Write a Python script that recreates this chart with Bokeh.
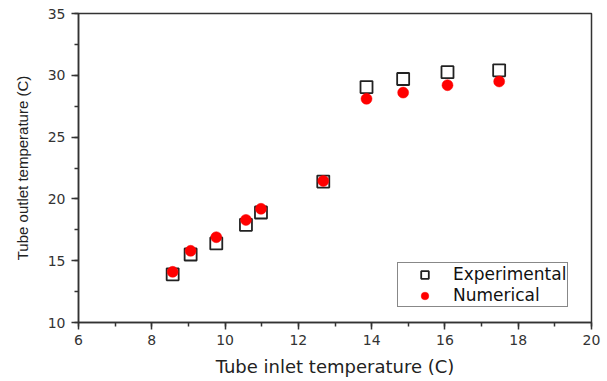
from bokeh.plotting import figure
from bokeh.models import Range1d, SingleIntervalTicker, Legend, LegendItem, ColumnDataSource
from bokeh.embed import file_html
from bokeh.resources import INLINE

# Data
inlet_temp = [8.57, 9.06, 9.76, 10.57, 10.98, 12.68, 13.86, 14.86, 16.07, 17.48]
exp_outlet = [13.9, 15.5, 16.4, 17.9, 18.9, 21.4, 29.05, 29.7, 30.25, 30.4]
num_outlet = [14.1, 15.8, 16.9, 18.3, 19.2, 21.45, 28.1, 28.6, 29.2, 29.5]
series_names = ["Experimental", "Numerical"]

src = ColumnDataSource(dict(x=inlet_temp, exp=exp_outlet, num=num_outlet))

p = figure(
    frame_width=513, frame_height=309,
    min_border_left=78, min_border_top=13, min_border_right=16, min_border_bottom=59,
    x_range=Range1d(6, 20), y_range=Range1d(10, 35),
    output_backend="svg", toolbar_location=None,
    background_fill_color="white", border_fill_color="white",
)
p.xgrid.visible = False
p.ygrid.visible = False
p.outline_line_color = "#333333"
p.outline_line_width = 1.5

p.xaxis.ticker = SingleIntervalTicker(interval=2, num_minor_ticks=2)
p.yaxis.ticker = SingleIntervalTicker(interval=5, num_minor_ticks=2)

for ax in (p.xaxis[0], p.yaxis[0]):
    ax.axis_line_color = "#333333"
    ax.axis_line_width = 1.5
    ax.major_tick_line_color = "#333333"
    ax.major_tick_line_width = 1.5
    ax.minor_tick_line_color = "#333333"
    ax.minor_tick_line_width = 1.5
    ax.major_tick_out = 7
    ax.major_tick_in = 0
    ax.minor_tick_out = 4
    ax.minor_tick_in = 0
    ax.major_label_text_font = "DejaVu Sans"
    ax.major_label_text_font_size = "14px"
    ax.major_label_text_color = "#333333"
    ax.axis_label_text_font_style = "normal"
    ax.axis_label_text_color = "#222222"

p.xaxis.major_label_standoff = 5
p.yaxis.major_label_standoff = 6
p.xaxis.axis_label = "Tube inlet temperature (C)"
p.xaxis.axis_label_text_font = "DejaVu Sans"
p.xaxis.axis_label_text_font_size = "18px"
p.xaxis.axis_label_standoff = 8
p.yaxis.axis_label = "Tube outlet temperature (C)"
p.yaxis.axis_label_text_font = "Liberation Sans"
p.yaxis.axis_label_text_font_size = "15px"
p.yaxis.axis_label_standoff = 14

r_exp = p.scatter("x", "exp", source=src, marker="square", size=12,
                  fill_color="white", line_color="#222222", line_width=1.8)
r_num = p.scatter("x", "num", source=src, marker="circle", size=11,
                  fill_color="#ff0000", line_color="#ff0000", line_width=0.5)

legend = Legend(
    items=[LegendItem(label=series_names[0], renderers=[r_exp]),
           LegendItem(label=series_names[1], renderers=[r_num])],
    location=(319, 15),
    padding=1, spacing=1, margin=0,
    glyph_width=51, glyph_height=19, label_height=19, label_standoff=3,
    label_text_font="DejaVu Sans", label_text_font_size="17px",
    label_text_color="#111111",
    border_line_color="#111111", border_line_width=1.5,
    background_fill_color="white", background_fill_alpha=1.0,
)
p.add_layout(legend, "center")

open("out.html", "w").write(file_html(p, INLINE))
